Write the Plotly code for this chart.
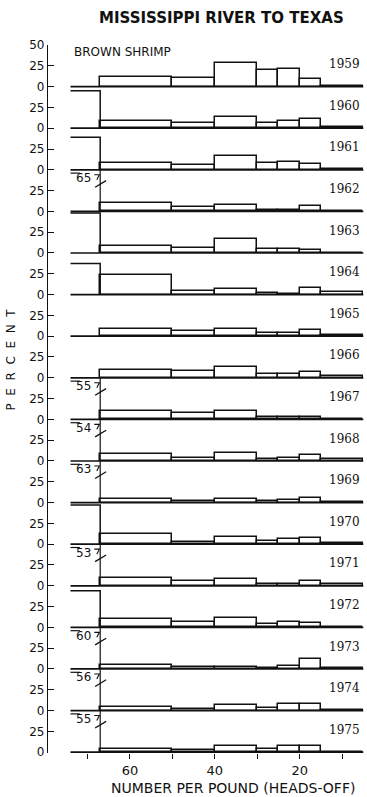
import plotly.graph_objects as go

years = [1959, 1960, 1961, 1962, 1963, 1964, 1965, 1966, 1967,
         1968, 1969, 1970, 1971, 1972, 1973, 1974, 1975]
# size-class edges (number per pound, heads-off)
edges = [67, 50, 40, 30, 25, 20, 15, 5]
over_left = 74          # left end of the ">67" class as drawn
# percent in the ">67" class
over67 = [0, 45, 39, 65, 48, 37.5, 0, 0, 55, 54, 63, 47, 53, 44, 60, 56, 55]
# percent in classes 67-50, 50-40, 40-30, 30-25, 25-20, 20-15, <15
pct = {
    1959: [11.5, 10.7, 28.6, 19.4, 21.4, 9.1, 0.5],
    1960: [8.9, 6.5, 14.0, 6.5, 8.9, 10.5, 1.5],
    1961: [8.0, 5.6, 16.4, 8.0, 8.8, 6.8, 0.5],
    1962: [9.7, 5.2, 7.3, 2.0, 1.6, 6.5, 0.3],
    1963: [8.5, 6.0, 16.5, 4.4, 4.4, 3.6, 0.5],
    1964: [23.7, 4.0, 7.3, 1.6, 1.2, 7.7, 3.7],
    1965: [8.5, 6.5, 8.5, 4.0, 4.0, 7.0, 2.0],
    1966: [9.2, 8.0, 13.2, 4.4, 4.0, 6.8, 1.6],
    1967: [9.6, 7.6, 9.6, 3.2, 3.2, 2.8, 0.5],
    1968: [8.4, 4.0, 10.0, 2.4, 3.6, 6.8, 2.0],
    1969: [4.4, 2.0, 4.4, 2.0, 3.6, 5.6, 0.3],
    1970: [12.5, 2.8, 8.5, 4.0, 6.5, 7.7, 2.0],
    1971: [8.8, 5.6, 8.4, 2.4, 2.0, 5.2, 1.6],
    1972: [9.6, 6.0, 10.8, 4.4, 6.8, 5.2, 0.3],
    1973: [4.4, 2.0, 2.8, 1.2, 3.2, 11.6, 0.8],
    1974: [4.0, 2.4, 6.4, 3.2, 8.0, 8.0, 0.3],
    1975: [4.4, 2.8, 7.2, 4.0, 7.2, 7.2, 0.3],
}
panel_max = 50          # each panel spans 0-50 percent
x_ticks = [70, 60, 50, 40, 30, 20, 10]
x_ticklabels = ["", "60", "", "40", "", "20", ""]

n = len(years)
offsets = [(n - 1 - i) * panel_max for i in range(n)]

fig = go.Figure()
LW = 1.5
black = "#111111"

centers = [(edges[k] + edges[k + 1]) / 2 for k in range(len(edges) - 1)]
widths = [edges[k] - edges[k + 1] for k in range(len(edges) - 1)]

annotations = []
for i, yr in enumerate(years):
    off = offsets[i]
    fig.add_trace(go.Bar(
        x=centers, y=pct[yr], base=[off] * len(centers), width=widths,
        marker=dict(color="white", line=dict(color=black, width=LW)),
        showlegend=False, hoverinfo="skip"))
    h = over67[i]
    if h > panel_max:
        # broken bar: vertical to panel top, label with value
        fig.add_trace(go.Scatter(
            x=[edges[0], edges[0]], y=[off, off + panel_max], mode="lines",
            line=dict(color=black, width=1.2), showlegend=False, hoverinfo="skip"))
        fig.add_trace(go.Scatter(
            x=[over_left, over_left - 2.2], y=[off + 46, off + 46], mode="lines",
            line=dict(color=black, width=1.2), showlegend=False, hoverinfo="skip"))
        fig.add_trace(go.Scatter(
            x=[68.4, 67.2, 67.8], y=[off + 44, off + 44, off + 38], mode="lines",
            line=dict(color=black, width=1.1), showlegend=False, hoverinfo="skip"))
        fig.add_trace(go.Scatter(
            x=[68.2, 65.6], y=[off + 29, off + 37], mode="lines",
            line=dict(color=black, width=1.3), showlegend=False, hoverinfo="skip"))
        annotations.append(dict(
            x=71.0, y=off + 40, xref="x", yref="y", text=f"{h:g}", showarrow=False,
            font=dict(family="DejaVu Sans", size=12, color=black)))
    elif h > 0:
        fig.add_trace(go.Scatter(
            x=[over_left, edges[0], edges[0]], y=[off + h, off + h, off], mode="lines",
            line=dict(color=black, width=LW), showlegend=False, hoverinfo="skip"))
    # panel baseline
    fig.add_trace(go.Scatter(
        x=[over_left, edges[-1]], y=[off, off], mode="lines",
        line=dict(color=black, width=1.7), showlegend=False, hoverinfo="skip"))
    annotations.append(dict(
        x=5.2, y=off + 27, xref="x", yref="y", xanchor="right", yanchor="middle",
        text=str(yr), showarrow=False,
        font=dict(family="DejaVu Serif", size=12, color=black)))

annotations.append(dict(
    x=73.6, y=offsets[0] + 41, xref="x", yref="y", xanchor="left", yanchor="middle",
    text="BROWN SHRIMP", showarrow=False,
    font=dict(family="DejaVu Sans", size=12, color=black)))
annotations.append(dict(
    x=0.547, y=1.038, xref="paper", yref="paper", xanchor="center", yanchor="middle",
    text="<b>MISSISSIPPI RIVER TO TEXAS</b>", showarrow=False,
    font=dict(family="DejaVu Sans", size=15, color=black)))
annotations.append(dict(
    x=0.583, y=-0.05, xref="paper", yref="paper", xanchor="center", yanchor="middle",
    text="NUMBER PER POUND (HEADS-OFF)", showarrow=False,
    font=dict(family="DejaVu Sans", size=14, color=black)))
annotations.append(dict(
    x=-0.115, y=0.555, xref="paper", yref="paper", xanchor="center", yanchor="middle",
    text="P  E  R  C  E  N  T", textangle=-90, showarrow=False,
    font=dict(family="DejaVu Sans", size=12, color=black)))

tickvals = []
ticktext = []
for k in range(0, n * 2 + 1):
    v = k * 25
    tickvals.append(v)
    if v == n * panel_max:
        ticktext.append("50")
    elif k % 2 == 1:
        ticktext.append("25")
    else:
        ticktext.append("0")

fig.update_layout(
    width=367, height=797,
    margin=dict(l=48, r=2, t=45, b=44),
    paper_bgcolor="white", plot_bgcolor="white",
    barmode="overlay", bargap=0,
    annotations=annotations,
    showlegend=False,
)
fig.update_xaxes(
    range=[79.3, 4.6], tickvals=x_ticks, ticktext=x_ticklabels,
    ticks="outside", ticklen=5, tickwidth=1.2, tickcolor=black,
    showline=False, showgrid=False, zeroline=False,
    tickfont=dict(family="DejaVu Sans", size=13, color=black))
fig.update_yaxes(
    range=[-1, n * panel_max], tickvals=tickvals, ticktext=ticktext,
    ticks="inside", ticklen=6, tickwidth=1.2, tickcolor=black,
    showline=True, linecolor=black, linewidth=1.3,
    showgrid=False, zeroline=False,
    tickfont=dict(family="DejaVu Sans", size=12, color=black))

fig.write_html("out.html")
